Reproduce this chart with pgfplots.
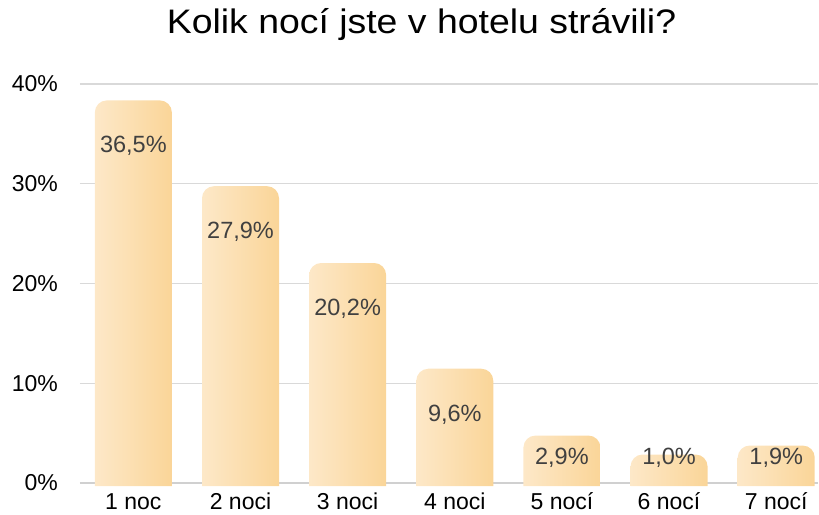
\documentclass[border=0pt]{standalone}
\usepackage{fontspec}
\setmainfont{Liberation Sans}
\newfontfamily\titlefont{Liberation Sans}[FakeStretch=1.1]
\usepackage{pgfplots}
\usepackage{pgfplotstable}
\pgfplotsset{compat=1.18}
\definecolor{barL}{RGB}{253,232,200}
\definecolor{barR}{RGB}{250,213,152}
\definecolor{gridc}{RGB}{217,217,217}
\definecolor{basec}{RGB}{208,208,208}
\definecolor{labc}{RGB}{64,64,64}
\pgfdeclareplotmark{nothing}{}

\pgfplotstableread{
x  v     ly    txt
0  36.5  33.1  36,5
1  27.9  24.5  27,9
2  20.2  16.8  20,2
3  9.6   6.2   9,6
4  2.9   1.81  2,9
5  1.0   1.81  1,0
6  1.9   1.81  1,9
}\data

\begin{document}
\begin{tikzpicture}
\useasboundingbox (-80pt,-31pt) rectangle (739pt,483pt);
\begin{axis}[
  at={(0,0)}, anchor=south west,
  scale only axis, width=738pt, height=399pt,
  xmin=-0.498, xmax=6.39, ymin=0, ymax=40,
  axis line style={draw=none},
  major tick length=0pt,
  /pgf/number format/assume math mode=true,
  xtick={0,...,6},
  xticklabels={1 noc, 2 noci, 3 noci, 4 noci, 5 nocí, 6 nocí, 7 nocí},
  ytick={0,10,20,30,40},
  yticklabel={\pgfmathprintnumber{\tick}\%},
  ymajorgrids, grid style={color=gridc, line width=1.4pt},
  tick label style={font=\fontsize{23}{27}\selectfont, text=black},
  xticklabel style={anchor=base, inner sep=0pt, yshift=-26.5pt},
  yticklabel style={anchor=east, inner sep=0pt, xshift=-22pt},
  title={\titlefont\fontsize{34}{40}\selectfont Kolik nocí jste v hotelu strávili?},
  title style={at={(0.5,1)}, anchor=base, yshift=44.7pt, xshift=-27.5pt, inner sep=0pt},
  clip=false,
]
\addplot[scatter, only marks, mark=nothing, draw=none,
  visualization depends on={\thisrow{v} \as \val},
  scatter/@pre marker code/.code={%
    \pgfmathsetmacro\h{\val*9.975+3}%
    \path[draw=none, left color=barL, right color=barR]
      (-38.5pt,-\h pt) -- (-38.5pt,6.5pt)
      arc[start angle=180, end angle=90, radius=12pt]
      -- (26.5pt,18.5pt)
      arc[start angle=90, end angle=0, radius=12pt]
      -- (38.5pt,-\h pt) -- cycle;
  },
  scatter/@post marker code/.code={},
] table[x=x, y=v] {\data};
\draw[color=basec, line width=2.6pt] (axis cs:-0.498,0) -- (axis cs:6.39,0);
\addplot[only marks, mark=nothing,
  point meta=explicit symbolic,
  nodes near coords={\pgfplotspointmeta\%},
  nodes near coords style={anchor=base, inner sep=0pt, text=labc, font=\fontsize{23.5}{28}\selectfont},
] table[x=x, y=ly, meta=txt] {\data};
\end{axis}
\end{tikzpicture}
\end{document}
